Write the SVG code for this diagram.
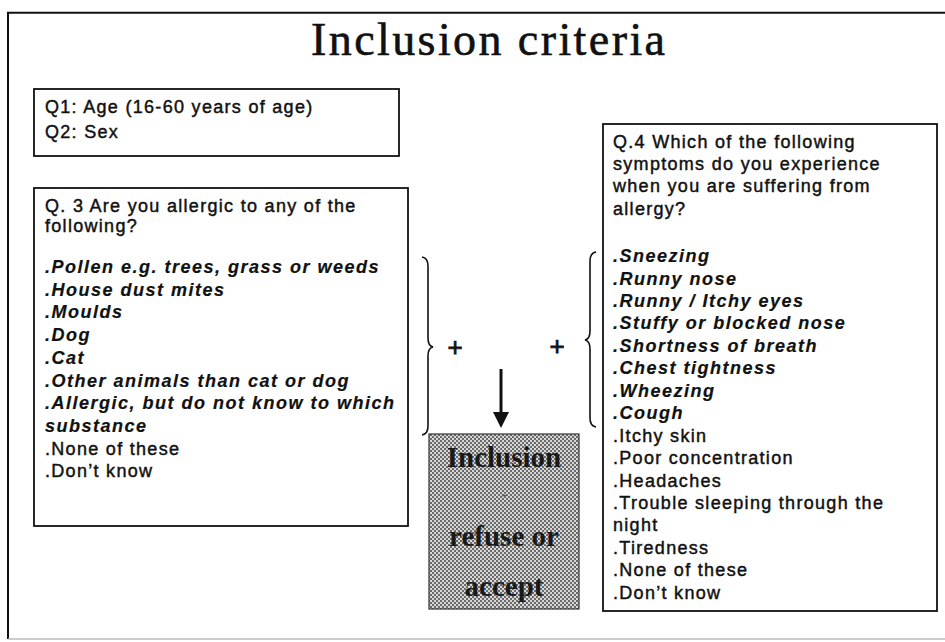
<svg xmlns="http://www.w3.org/2000/svg" width="945" height="642" viewBox="0 0 945 642">
<style>
.box{fill:#fff;stroke:#111;stroke-width:1.8}
.t{font-family:"Liberation Sans",Arial,sans-serif;font-size:18px;fill:#111;stroke:#111;stroke-width:0.45px;letter-spacing:1.3px}
.bi{font-weight:bold;font-style:italic;stroke-width:0.2px;letter-spacing:1.5px}
.sh{font-family:"Liberation Serif","Times New Roman",serif;font-weight:bold;font-size:29px;fill:#1a1a1a;text-anchor:middle}
.br{fill:none;stroke:#111;stroke-width:1.6}
</style>
<defs>
<pattern id="dots" width="4" height="4" patternUnits="userSpaceOnUse">
<rect width="4" height="4" fill="#d8d8d8"/>
<rect x="0" y="0" width="2" height="2" fill="#6a6a6a"/>
<rect x="2" y="2" width="2" height="2" fill="#6a6a6a"/>
</pattern>
</defs>
<rect width="945" height="642" fill="#fff"/>
<g id="frame">
<path d="M8,639 L8,12.7 L945,12.7" fill="none" stroke="#111" stroke-width="2"/>
<line x1="8" y1="639" x2="945" y2="639" stroke="#bbb" stroke-width="1.5"/>
</g>
<g id="title">
<text x="311" y="55" font-family="'Liberation Serif','Times New Roman',serif" font-size="46" fill="#111" stroke="#111" stroke-width="0.6" textLength="354" lengthAdjust="spacing">Inclusion criteria</text>
</g>
<g id="q1q2">
<rect class="box" x="34" y="89" width="365" height="67"/>
<text class="t" x="45" y="113">Q1: Age (16-60 years of age)</text>
<text class="t" x="45" y="138">Q2: Sex</text>
</g>
<g id="q3">
<rect class="box" x="34" y="188" width="374" height="338"/>
<text class="t" x="45" y="212">Q. 3 Are you allergic to any of the</text>
<text class="t" x="45" y="232">following?</text>
<text class="t bi" x="45" y="273">.Pollen e.g. trees, grass or weeds</text>
<text class="t bi" x="45" y="295.7">.House dust mites</text>
<text class="t bi" x="45" y="318.4">.Moulds</text>
<text class="t bi" x="45" y="341.1">.Dog</text>
<text class="t bi" x="45" y="363.8">.Cat</text>
<text class="t bi" x="45" y="386.5">.Other animals than cat or dog</text>
<text class="t bi" x="45" y="409.2">.Allergic, but do not know to which</text>
<text class="t bi" x="45" y="431.9">substance</text>
<text class="t" x="45" y="454.6">.None of these</text>
<text class="t" x="45" y="477.3">.Don’t know</text>
</g>
<g id="q4">
<rect class="box" x="603" y="124" width="334" height="487"/>
<text class="t" x="613" y="148">Q.4 Which of the following</text>
<text class="t" x="613" y="170">symptoms do you experience</text>
<text class="t" x="613" y="192">when you are suffering from</text>
<text class="t" x="613" y="215">allergy?</text>
<text class="t bi" x="613" y="262">.Sneezing</text>
<text class="t bi" x="613" y="284.5">.Runny nose</text>
<text class="t bi" x="613" y="306.9">.Runny / Itchy eyes</text>
<text class="t bi" x="613" y="329.4">.Stuffy or blocked nose</text>
<text class="t bi" x="613" y="351.8">.Shortness of breath</text>
<text class="t bi" x="613" y="374.3">.Chest tightness</text>
<text class="t bi" x="613" y="396.7">.Wheezing</text>
<text class="t bi" x="613" y="419.2">.Cough</text>
<text class="t" x="613" y="441.6">.Itchy skin</text>
<text class="t" x="613" y="464.1">.Poor concentration</text>
<text class="t" x="613" y="486.5">.Headaches</text>
<text class="t" x="613" y="509">.Trouble sleeping through the</text>
<text class="t" x="613" y="531.4">night</text>
<text class="t" x="613" y="553.9">.Tiredness</text>
<text class="t" x="613" y="576.3">.None of these</text>
<text class="t" x="613" y="598.8">.Don’t know</text>
</g>
<g id="result">
<rect x="429" y="434" width="150" height="175" fill="url(#dots)" stroke="#333" stroke-width="1.2"/>
<text class="sh" x="504" y="467">Inclusion</text>
<text class="sh" x="504" y="500" style="font-size:16px;fill:#555">-</text>
<text class="sh" x="504" y="546">refuse or</text>
<text class="sh" x="504" y="596">accept</text>
</g>
<g id="connectors">
<path class="br" d="M422,257 Q428,258 428,266 L428,338 Q428,346 433,347 Q428,348 428,356 L428,426 Q428,434 422,435"/>
<path class="br" d="M596,252 Q590,253 590,261 L590,331 Q590,339 585,340 Q590,341 590,349 L590,418 Q590,426 596,427"/>
<text x="455" y="356" font-family="'Liberation Sans',Arial,sans-serif" font-size="26" fill="#111" stroke="#111" stroke-width="0.8" text-anchor="middle">+</text>
<text x="557" y="355" font-family="'Liberation Sans',Arial,sans-serif" font-size="26" fill="#111" stroke="#111" stroke-width="0.8" text-anchor="middle">+</text>
<line x1="501" y1="369" x2="501" y2="415" stroke="#111" stroke-width="3"/>
<polygon points="493,412 509,412 501,428" fill="#111"/>
</g>
</svg>
